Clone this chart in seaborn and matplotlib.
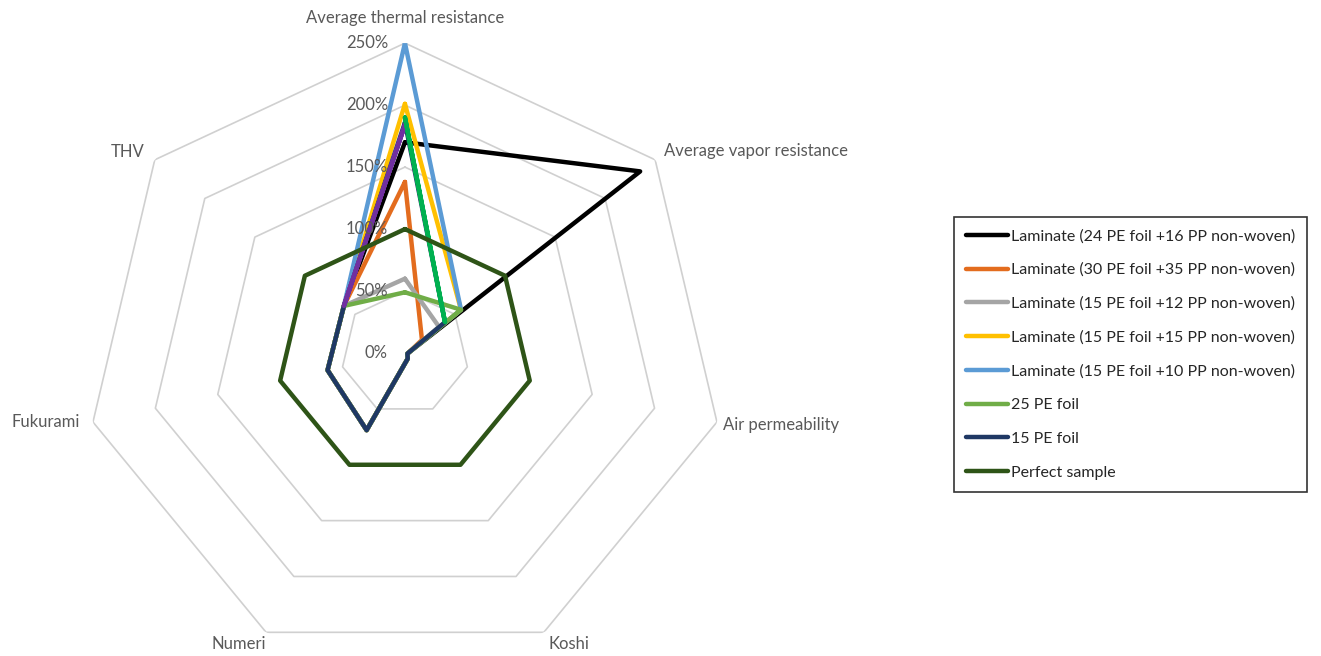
import numpy as np
import pandas as pd
import matplotlib.pyplot as plt
import seaborn as sns

# Categorias (eixos do radar), sentido horario a partir do topo
categorias = ['Average thermal resistance', 'Average vapor resistance', 'Air permeability',
              'Koshi', 'Numeri', 'Fukurami', 'THV']

# Valores em %
lam_24_16 = [170, 235, 2, 5, 69, 62, 61]
lam_30_35 = [138, 17, 2, 5, 69, 62, 61]
lam_15_12 = [60, 34, 2, 5, 69, 62, 61]
lam_15_15 = [201, 56, 2, 5, 69, 62, 61]
lam_15_10 = [250, 56, 2, 5, 69, 62, 61]
pe_25 = [49, 56, 2, 5, 69, 62, 61]
pe_15 = [186, 40, 2, 5, 69, 62, 61]
extra_roxo = [184, np.nan, np.nan, np.nan, np.nan, np.nan, 61]
extra_verde = [190, 40, np.nan, np.nan, np.nan, np.nan, np.nan]
perfeito = [100, 100, 100, 100, 100, 100, 100]

niveis = [0, 50, 100, 150, 200, 250]

series = [
    ('Laminate (24 PE foil +16 PP non-woven)', lam_24_16, '#000000'),
    ('Laminate (30 PE foil +35 PP non-woven)', lam_30_35, '#E36C1E'),
    ('Laminate (15 PE foil +12 PP non-woven)', lam_15_12, '#A5A5A5'),
    ('Laminate (15 PE foil +15 PP non-woven)', lam_15_15, '#FFC000'),
    ('Laminate (15 PE foil +10 PP non-woven)', lam_15_10, '#5B9BD5'),
    ('25 PE foil', pe_25, '#70AD47'),
    ('15 PE foil', pe_15, '#1F3864'),
    (None, extra_roxo, '#7030A0'),
    (None, extra_verde, '#00B050'),
    ('Perfect sample', perfeito, '#2E5417'),
]

sns.set_theme(style='white')
plt.rcParams['font.family'] = ['Lato', 'DejaVu Sans']
cor_texto = '#595959'

n = len(categorias)
angulos = np.linspace(0, 2 * np.pi, n, endpoint=False)
ang_fechado = np.append(angulos, 2 * np.pi)

fig = plt.figure(figsize=(13.21, 6.56), dpi=100)
ax = fig.add_axes([0.0643, -0.0107, 0.4845, 0.945], projection='polar')
ax.set_aspect('auto')
ax.set_theta_offset(np.pi / 2)
ax.set_theta_direction(-1)
ax.set_ylim(0, 250)
ax.grid(False)
ax.spines['polar'].set_visible(False)
ax.set_xticks([])
ax.set_yticks([])

# Grade heptagonal
for nv in niveis[1:]:
    ax.plot(ang_fechado, [nv] * (n + 1), color='#D0D0D0', lw=1.2, zorder=0)

handles, nomes = [], []
for nome, vals, cor in series:
    v = np.append(vals, vals[0])
    df = pd.DataFrame({'ang': ang_fechado, 'valor': v})
    sns.lineplot(data=df, x='ang', y='valor', ax=ax, color=cor, lw=3.2,
                 sort=False, estimator=None, legend=False)
    if nome is not None:
        handles.append(ax.lines[-1])
        nomes.append(nome)
ax.set_xlabel('')
ax.set_ylabel('')

# Rotulos radiais
for nv in niveis:
    ax.annotate(f'{nv}%', xy=(0, nv), xytext=(-17, 0), textcoords='offset pixels',
                ha='right', va='center', fontsize=12, color=cor_texto)

# Rotulos das categorias
desloc = [(0, 25, 'center'), (9, 9, 'left'), (6, -3, 'left'), (25, -12, 'center'),
          (-27, -12, 'center'), (-13, 0, 'right'), (-10, 8, 'right')]
for ang, cat, (dx, dy, ha) in zip(angulos, categorias, desloc):
    ax.annotate(cat, xy=(ang, 250), xytext=(dx, dy), textcoords='offset pixels',
                ha=ha, va='center', fontsize=12, color=cor_texto, annotation_clip=False)

leg = fig.legend(handles, nomes, loc='upper left', bbox_to_anchor=(954 / 1321, 1 - 217 / 656),
                 fontsize=11.5, frameon=True, fancybox=False, edgecolor='black',
                 handlelength=2.6, handletextpad=0.2, labelspacing=1.22, borderpad=0.75,
                 borderaxespad=0)
leg.get_frame().set_linewidth(1.2)
for t in leg.get_texts():
    t.set_color('#262626')

fig.savefig('out.png', dpi=100, facecolor='white')
